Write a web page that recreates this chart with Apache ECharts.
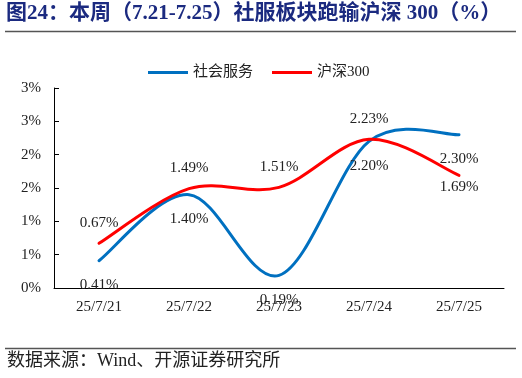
<!DOCTYPE html>
<html><head><meta charset="utf-8">
<script src="https://cdn.jsdelivr.net/npm/echarts@6/dist/echarts.min.js"></script>
<style>html,body{margin:0;padding:0;background:#fff}#c{width:522px;height:378px}</style>
</head><body><div id="c"></div>
<script>
var categories = ['25/7/21','25/7/22','25/7/23','25/7/24','25/7/25'];
var socialService = [0.41, 1.40, 0.19, 2.20, 2.30];
var hs300 = [0.67, 1.49, 1.51, 2.23, 1.69];
var seriesNames = ['社会服务','沪深300'];
var titleText = '图24：本周（7.21-7.25）社服板块跑输沪深 300（%）';
var sourceText = '数据来源：Wind、开源证券研究所';

var serif = '"Liberation Serif","Noto Sans CJK SC",serif';
var chart = echarts.init(document.getElementById('c'));
function pct(p){ return p.value.toFixed(2) + '%'; }

// Excel-like smoothed curve (Catmull-Rom converted to Bezier), mapped through the chart's axes
function curveSeries(values, color){
  return {
    type:'custom', silent:true, z:2,
    data:[[0, values[0]]],
    renderItem:function(params, api){
      var pts = values.map(function(v,i){ return api.coord([i, v]); });
      var n = pts.length, d = 'M' + pts[0][0] + ' ' + pts[0][1];
      for (var i = 0; i < n-1; i++){
        var p0 = pts[i===0?0:i-1], p1 = pts[i], p2 = pts[i+1], p3 = pts[i+2<n?i+2:n-1];
        var c1x = p1[0] + (p2[0]-p0[0])/6, c1y = p1[1] + (p2[1]-p0[1])/6;
        var c2x = p2[0] - (p3[0]-p1[0])/6, c2y = p2[1] - (p3[1]-p1[1])/6;
        d += ' C' + c1x + ' ' + c1y + ' ' + c2x + ' ' + c2y + ' ' + p2[0] + ' ' + p2[1];
      }
      return {type:'path', shape:{pathData:d},
        style:{fill:null, stroke:color, lineWidth:3, lineCap:'round', lineJoin:'round'}};
    }
  };
}

chart.setOption({
  animation:false,
  grid:{left:54,right:18,top:88,bottom:90},
  legend:{
    top:60, left:143, itemWidth:40, itemHeight:3, itemGap:19, icon:'rect',
    textStyle:{fontFamily:serif, fontSize:15, color:'#222'},
    data:seriesNames
  },
  xAxis:{
    type:'category', data:categories, boundaryGap:true,
    axisLine:{lineStyle:{color:'#000',width:1}},
    axisTick:{inside:true,length:5,lineStyle:{color:'#000'}},
    axisLabel:{fontFamily:serif,fontSize:15,color:'#222',margin:12}
  },
  yAxis:{
    type:'value', min:0, max:3, interval:0.5,
    axisLine:{show:true,lineStyle:{color:'#000',width:1}},
    axisTick:{show:true,inside:true,length:5,lineStyle:{color:'#000'}},
    splitLine:{show:false},
    axisLabel:{fontFamily:serif,fontSize:15,color:'#222',margin:13,
      formatter:function(v){return Math.round(v)+'%';}}
  },
  series:[
    {name:seriesNames[0], type:'line', data:socialService, z:3,
     symbol:'circle', symbolSize:0.1, itemStyle:{color:'#0070C0'},
     lineStyle:{color:'#0070C0',width:3,opacity:0},
     label:{show:true,position:'bottom',distance:17,formatter:pct,
       fontFamily:serif,fontSize:15,color:'#222'}},
    {name:seriesNames[1], type:'line', z:3,
     data:hs300.map(function(v,i){
       return i===hs300.length-1 ? {value:v,label:{position:'bottom',distance:4}} : v;
     }),
     symbol:'circle', symbolSize:0.1, itemStyle:{color:'#FF0000'},
     lineStyle:{color:'#FF0000',width:3,opacity:0},
     label:{show:true,position:'top',distance:13,formatter:pct,
       fontFamily:serif,fontSize:15,color:'#222'}},
    curveSeries(socialService, '#0070C0'),
    curveSeries(hs300, '#FF0000')
  ],
  graphic:[
    {type:'text', left:6, top:3, style:{text:titleText, fontSize:21, fontWeight:'bold',
      fill:'#1B2A80', fontFamily:'"Liberation Serif","Noto Sans CJK SC",serif'}},
    {type:'line', shape:{x1:5,y1:31.5,x2:516,y2:31.5}, style:{stroke:'#555',lineWidth:1.5}},
    {type:'line', shape:{x1:5,y1:348.5,x2:516,y2:348.5}, style:{stroke:'#555',lineWidth:1.5}},
    {type:'text', left:7, top:352, style:{text:sourceText, fontSize:18,
      fill:'#222', fontFamily:'"Liberation Serif","Noto Sans CJK SC",serif'}}
  ]
});
</script></body></html>
